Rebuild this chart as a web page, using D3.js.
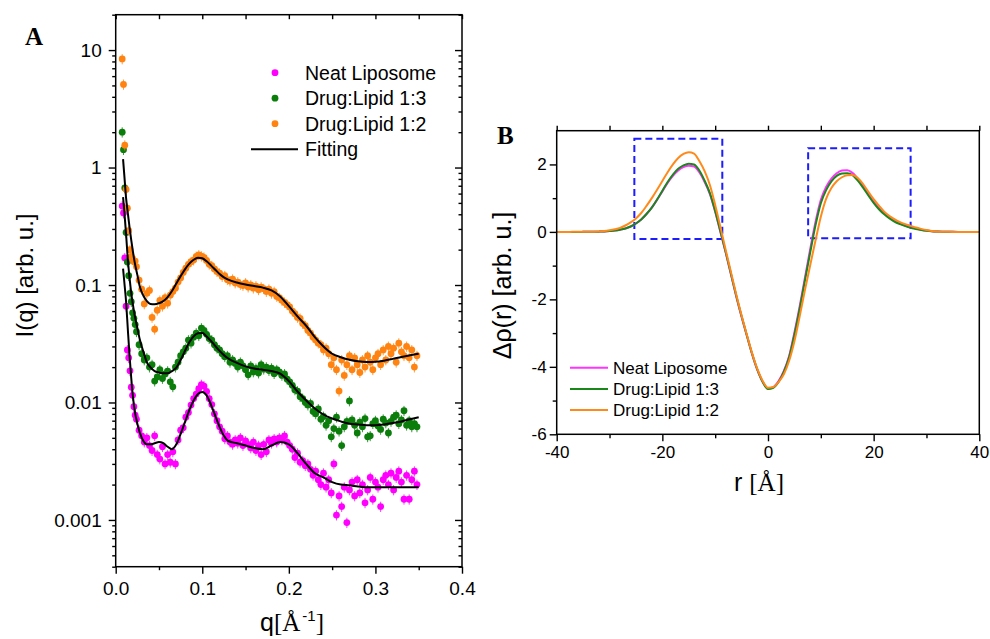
<!DOCTYPE html>
<html>
<head>
<meta charset="utf-8">
<script src="https://cdn.jsdelivr.net/npm/d3@7"></script>
<style>
body { margin: 0; background: #fff; }
svg { display: block; }
</style>
</head>
<body>
<div id="chart-area"></div>
<script>
// ---------- panel A : scattering data ----------
var qData = [
    0.0075, 0.009, 0.0105, 0.012, 0.0135, 0.015, 0.0165, 0.018, 0.0195, 0.021, 0.0225, 0.024,
    0.027, 0.030, 0.033, 0.036, 0.039, 0.042, 0.045, 0.048, 0.051, 0.054, 0.057, 0.060,
    0.063, 0.066, 0.069, 0.072, 0.075, 0.078, 0.081, 0.084, 0.087, 0.090, 0.093, 0.096,
    0.099, 0.102, 0.105, 0.108, 0.111, 0.114, 0.117, 0.120, 0.123, 0.126, 0.129, 0.132,
    0.135, 0.138, 0.141, 0.144, 0.147, 0.150, 0.153, 0.156, 0.159, 0.162, 0.165, 0.168,
    0.171, 0.174, 0.177, 0.180, 0.183, 0.186, 0.189, 0.192, 0.195, 0.198, 0.201, 0.204,
    0.207, 0.210, 0.213, 0.216, 0.219, 0.222, 0.225, 0.228, 0.231, 0.234, 0.237, 0.240,
    0.243, 0.246, 0.249, 0.252, 0.255, 0.258, 0.261, 0.264, 0.267, 0.270, 0.273, 0.276,
    0.279, 0.282, 0.285, 0.288, 0.291, 0.294, 0.297, 0.300, 0.303, 0.306, 0.309, 0.312,
    0.315, 0.318, 0.321, 0.324, 0.327, 0.330, 0.333, 0.336, 0.339, 0.342, 0.345, 0.348
];

var neatI = [
    0.47, 0.41, 0.17, 0.066, 0.028, 0.024, 0.0186, 0.0135, 0.0115, 0.0092, 0.0078, 0.0072,
    0.0058, 0.0052, 0.0046, 0.0050, 0.0043, 0.0039, 0.0052, 0.0036, 0.0033, 0.0042, 0.0030, 0.0036,
    0.0031, 0.0038, 0.0030, 0.0048, 0.0058, 0.0061, 0.0075, 0.0082, 0.0095, 0.0108, 0.0118, 0.0131,
    0.0142, 0.0138, 0.0124, 0.0108, 0.0096, 0.0080, 0.0070, 0.0062, 0.0057, 0.0049, 0.0052, 0.0046,
    0.0044, 0.0048, 0.0045, 0.0050, 0.0043, 0.0047, 0.0044, 0.0041, 0.0046, 0.0039, 0.0043, 0.0036,
    0.0044, 0.0038, 0.0048, 0.0045, 0.0049, 0.0046, 0.0050, 0.0048, 0.0052, 0.0046, 0.0043, 0.0040,
    0.0034, 0.0037, 0.0031, 0.0032, 0.0029, 0.0030, 0.0027, 0.0024, 0.0026, 0.0022, 0.0020, 0.0025,
    0.0019, 0.0022, 0.0017, 0.0030, 0.0011, 0.0016, 0.0013, 0.0019, 0.00095, 0.0018, 0.0021, 0.0016,
    0.0022, 0.0017, 0.0020, 0.0014, 0.0018, 0.0023, 0.0015, 0.0021, 0.0019, 0.0013, 0.0022, 0.0024,
    0.0020, 0.0025, 0.0018, 0.0023, 0.0026, 0.0021, 0.0015, 0.0024, 0.0015, 0.0022, 0.0026, 0.0020
];

var d13I = [
    2.0, 1.42, 0.67, 0.28, 0.157, 0.12, 0.085, 0.072, 0.058, 0.052, 0.046, 0.040,
    0.031, 0.026, 0.023, 0.024, 0.020, 0.021, 0.0152, 0.0165, 0.019, 0.016, 0.0175, 0.0185,
    0.0150, 0.0136, 0.020, 0.022, 0.025, 0.027, 0.029, 0.034, 0.032, 0.036, 0.039, 0.037,
    0.043, 0.041, 0.038, 0.035, 0.034, 0.031, 0.029, 0.028, 0.026, 0.0245, 0.025, 0.022,
    0.023, 0.0215, 0.020, 0.022, 0.0205, 0.019, 0.0172, 0.0205, 0.0182, 0.0195, 0.0178, 0.021,
    0.0192, 0.0200, 0.0187, 0.0196, 0.0176, 0.0190, 0.0182, 0.0170, 0.0175, 0.0158, 0.0150, 0.0140,
    0.0128, 0.0125, 0.0112, 0.0108, 0.0100, 0.0095, 0.0098, 0.0084, 0.0080, 0.0088, 0.0072, 0.0076,
    0.0064, 0.0070, 0.0051, 0.0060, 0.0075, 0.0057, 0.0043, 0.0062, 0.0069, 0.0103, 0.0071, 0.0064,
    0.0055, 0.0068, 0.0062, 0.0073, 0.0051, 0.0052, 0.0066, 0.0070, 0.0063, 0.0059, 0.0072, 0.0067,
    0.0055, 0.0069, 0.0075, 0.0078, 0.0066, 0.0071, 0.0085, 0.0064, 0.0070, 0.0062, 0.0066, 0.0062
];

var d12I = [
    8.4, 5.1, 1.55, 0.65, 0.45, 0.29, 0.20, 0.175, 0.165, 0.158, 0.16, 0.143,
    0.11, 0.092, 0.069, 0.085, 0.09, 0.053, 0.042, 0.061, 0.074, 0.066, 0.078, 0.070,
    0.082, 0.088, 0.094, 0.106, 0.115, 0.128, 0.139, 0.150, 0.158, 0.163, 0.175, 0.180,
    0.176, 0.172, 0.162, 0.150, 0.146, 0.137, 0.130, 0.126, 0.118, 0.120, 0.111, 0.108,
    0.112, 0.104, 0.106, 0.101, 0.099, 0.104, 0.096, 0.100, 0.094, 0.098, 0.091, 0.096,
    0.093, 0.088, 0.092, 0.085, 0.088, 0.080, 0.078, 0.074, 0.071, 0.068, 0.065, 0.060,
    0.057, 0.053, 0.052, 0.047, 0.045, 0.041, 0.039, 0.036, 0.034, 0.032, 0.031, 0.028,
    0.029, 0.026, 0.021, 0.024, 0.019, 0.0125, 0.023, 0.017, 0.021, 0.025, 0.019, 0.024,
    0.021, 0.018, 0.023, 0.020, 0.025, 0.022, 0.019, 0.024, 0.026, 0.021, 0.028, 0.023,
    0.030, 0.026, 0.029, 0.022, 0.032, 0.027, 0.025, 0.030, 0.024, 0.028, 0.020, 0.025
];

// fitted curves
var fitQ = [
    0.0085, 0.010, 0.012, 0.014, 0.016, 0.018, 0.020, 0.022, 0.025, 0.028,
    0.032, 0.036, 0.040, 0.045, 0.050, 0.055, 0.060, 0.065, 0.070, 0.075,
    0.080, 0.085, 0.090, 0.095, 0.100, 0.105, 0.110, 0.115, 0.120, 0.125,
    0.130, 0.140, 0.150, 0.160, 0.170, 0.180, 0.190, 0.200, 0.210, 0.220,
    0.230, 0.240, 0.250, 0.260, 0.270, 0.280, 0.290, 0.300, 0.310, 0.320,
    0.330, 0.340, 0.350
];
var fitNeat = [
    0.138, 0.105, 0.072, 0.042, 0.025, 0.016, 0.011, 0.0085, 0.0066, 0.0055,
    0.0047, 0.0044, 0.0044, 0.0045, 0.0046, 0.0045, 0.0042, 0.0040, 0.0044, 0.0054,
    0.0068, 0.0086, 0.0104, 0.0118, 0.0123, 0.0115, 0.0096, 0.0077, 0.0062, 0.0052,
    0.0047, 0.0045, 0.0043, 0.0041, 0.0040, 0.0043, 0.0046, 0.0044, 0.0037, 0.0030,
    0.0025, 0.0023, 0.0021, 0.0020, 0.00197, 0.00193, 0.0019, 0.0019, 0.0019, 0.0019,
    0.0019, 0.0019, 0.0019
];
var fitD13 = [
    0.56, 0.42, 0.27, 0.165, 0.115, 0.085, 0.067, 0.055, 0.043, 0.034,
    0.027, 0.022, 0.020, 0.0185, 0.018, 0.0177, 0.0177, 0.0185, 0.0198, 0.023,
    0.0275, 0.0325, 0.0365, 0.0388, 0.039, 0.0365, 0.0335, 0.0303, 0.0275, 0.0253,
    0.0237, 0.0217, 0.0203, 0.0195, 0.019, 0.0185, 0.0176, 0.0152, 0.0124, 0.0104,
    0.0089, 0.0079, 0.0073, 0.0069, 0.0066, 0.0065, 0.0064, 0.0064, 0.0065, 0.0067,
    0.0069, 0.0072, 0.0075
];
var fitD12 = [
    1.18, 0.85, 0.55, 0.41, 0.31, 0.24, 0.19, 0.155, 0.122, 0.096,
    0.081, 0.073, 0.069, 0.0685, 0.070, 0.073, 0.079, 0.089, 0.103, 0.119,
    0.136, 0.152, 0.164, 0.171, 0.169, 0.159, 0.147, 0.135, 0.124, 0.116,
    0.111, 0.105, 0.101, 0.098, 0.095, 0.090, 0.080, 0.066, 0.054, 0.045,
    0.036, 0.030, 0.026, 0.0243, 0.0231, 0.0224, 0.0221, 0.0222, 0.0227, 0.0235,
    0.0244, 0.0252, 0.026
];

// ---------- panel B : electron density profiles ----------
var rGrid = [
    -40, -39, -38, -37, -36, -35, -34, -33, -32, -31,
    -30, -29, -28, -27, -26, -25, -24, -23, -22, -21,
    -20, -19, -18, -17, -16, -15, -14, -13, -12, -11,
    -10, -9, -8, -7, -6, -5, -4, -3, -2, -1,
    0, 1, 2, 3, 4, 5, 6, 7, 8, 9,
    10, 11, 12, 13, 14, 15, 16, 17, 18, 19,
    20, 21, 22, 23, 24, 25, 26, 27, 28, 29,
    30, 31, 32, 33, 34, 35, 36, 37, 38, 39,
    40
];
var rhoNeat = [
    0, 0, 0, 0, 0, 0.001, 0.002, 0.004, 0.008, 0.014,
    0.025, 0.04, 0.065, 0.10, 0.16, 0.25, 0.37, 0.53, 0.72, 0.95,
    1.2, 1.45, 1.66, 1.82, 1.92, 1.96, 1.94, 1.77, 1.48, 1.12,
    0.6, -0.01, -0.62, -1.27, -1.92, -2.52, -3.08, -3.63, -4.1, -4.45,
    -4.64, -4.6, -4.42, -4.12, -3.68, -2.98, -2.2, -1.35, -0.5, 0.3,
    0.95, 1.33, 1.58, 1.74, 1.82, 1.83, 1.75, 1.57, 1.36, 1.12,
    0.9, 0.71, 0.55, 0.43, 0.33, 0.25, 0.19, 0.14, 0.1, 0.065,
    0.04, 0.022, 0.011, 0.005, 0.002, 0.001, 0, 0, 0, 0,
    0
];
var rhoD13 = [
    0, 0, 0, 0, 0, 0.001, 0.002, 0.004, 0.008, 0.014,
    0.025, 0.04, 0.065, 0.10, 0.16, 0.25, 0.37, 0.53, 0.72, 0.96,
    1.22, 1.48, 1.70, 1.87, 1.97, 2.02, 2.0, 1.82, 1.52, 1.15,
    0.62, 0.01, -0.6, -1.25, -1.9, -2.5, -3.07, -3.62, -4.09, -4.45,
    -4.66, -4.62, -4.45, -4.15, -3.72, -3.05, -2.28, -1.43, -0.6, 0.2,
    0.85, 1.24, 1.5, 1.66, 1.73, 1.74, 1.68, 1.52, 1.31, 1.08,
    0.86, 0.67, 0.52, 0.4, 0.3, 0.23, 0.17, 0.12, 0.085, 0.055,
    0.033, 0.018, 0.009, 0.004, 0.002, 0.001, 0, 0, 0, 0,
    0
];
var rhoD12 = [
    0, 0, 0, 0.001, 0.001, 0.002, 0.004, 0.008, 0.015, 0.026,
    0.048, 0.078, 0.12, 0.19, 0.28, 0.40, 0.56, 0.77, 1.0, 1.25,
    1.51, 1.77, 2.0, 2.19, 2.31, 2.36, 2.32, 2.10, 1.80, 1.39,
    0.80, 0.14, -0.54, -1.2, -1.86, -2.48, -3.05, -3.6, -4.07, -4.42,
    -4.62, -4.6, -4.45, -4.22, -3.82, -3.24, -2.5, -1.72, -0.98, -0.25,
    0.45, 0.98, 1.3, 1.5, 1.62, 1.68, 1.69, 1.6, 1.42, 1.19,
    0.97, 0.78, 0.6, 0.47, 0.37, 0.29, 0.23, 0.18, 0.13, 0.09,
    0.055, 0.03, 0.015, 0.007, 0.003, 0, 0, 0, 0, 0,
    0
];

var seriesNames = ["Neat Liposome", "Drug:Lipid 1:3", "Drug:Lipid 1:2"];
var dotColors = ["#ff00ff", "#0b7d0b", "#ff8311"];
var lineColors = ["#ff33ff", "#1a871a", "#ff8a1c"];

var logTicks = [0.001, 0.01, 0.1, 1, 10];
var logTickLabels = ["0.001", "0.01", "0.1", "1", "10"];
var qTicks = [0, 0.1, 0.2, 0.3, 0.4];
var qMinor = [0.05, 0.15, 0.25, 0.35];
var rTicks = [-40, -20, 0, 20, 40];
var rMinor = [-30, -10, 10, 30];
var rhoTicks = [-6, -4, -2, 0, 2];
var rhoMinor = [-5, -3, -1, 1];
// dashed boxes in data units: [r0, r1, top, bottom]
var boxes = [[-25.3, -8.65, 2.76, -0.21], [7.6, 27.0, 2.48, -0.19]];

var relErr = 0.1;   // drawn error bar half-height, relative

var sans = "'Liberation Sans', Arial, sans-serif";
var serif = "'Liberation Serif', 'Times New Roman', serif";

var svg = d3.select("#chart-area").append("svg")
    .attr("width", 990)
    .attr("height", 639)
    .style("font-family", sans);

function styleAxis(g, fs) {
    g.attr("font-family", null).attr("font-size", null);
    g.select(".domain").remove();
    g.selectAll(".tick line").attr("stroke", "#000").attr("stroke-width", 1.4);
    g.selectAll(".tick text")
        .style("font-size", fs + "px")
        .style("font-family", sans)
        .attr("fill", "#000");
}

// ================= PANEL A =================
var xA = d3.scaleLinear().domain([0, 0.4]).range([115.7, 462]);
var yA = d3.scaleLog().domain([4e-4, 20]).range([566.7, 14.7]);
var logMinor = yA.ticks().filter((v) => Math.abs(Math.log10(v) - Math.round(Math.log10(v))) > 1e-6);

var gA = svg.append("g");

// error bars + dots
var setsA = [neatI, d13I, d12I];
setsA.forEach((vals, s) => {
    var pts = qData.map((q, i) => ({ q: q, v: vals[i] }));
    var g = gA.append("g");
    g.selectAll("line").data(pts).enter().append("line")
        .attr("x1", (d) => xA(d.q))
        .attr("x2", (d) => xA(d.q))
        .attr("y1", (d) => yA(d.v * (1 - relErr)))
        .attr("y2", (d) => yA(d.v * (1 + relErr)))
        .attr("stroke", dotColors[s])
        .attr("stroke-width", 0.8);
    g.selectAll("circle").data(pts).enter().append("circle")
        .attr("cx", (d) => xA(d.q))
        .attr("cy", (d) => yA(d.v))
        .attr("r", 3.4)
        .attr("fill", dotColors[s]);
});

// fit lines
var fitLine = d3.line()
    .x((d) => xA(d[0]))
    .y((d) => yA(d[1]))
    .curve(d3.curveMonotoneX);
[fitNeat, fitD13, fitD12].forEach((vals) => {
    gA.append("path")
        .datum(fitQ.map((q, i) => [q, vals[i]]))
        .attr("d", fitLine)
        .attr("fill", "none")
        .attr("stroke", "#000")
        .attr("stroke-width", 2);
});

// axes A
var axB = gA.append("g").attr("transform", "translate(0,566.7)")
    .call(d3.axisBottom(xA).tickValues(qTicks).tickFormat(d3.format(".1f")).tickSize(7).tickPadding(8));
styleAxis(axB, 19);
var axBm = gA.append("g").attr("transform", "translate(0,566.7)")
    .call(d3.axisBottom(xA).tickValues(qMinor).tickFormat("").tickSize(3.5));
styleAxis(axBm, 19);
var axT = gA.append("g").attr("transform", "translate(0,14.7)")
    .call(d3.axisTop(xA).tickValues(qTicks.concat(qMinor)).tickFormat("").tickSize(-4.5));
styleAxis(axT, 19);

var axL = gA.append("g").attr("transform", "translate(115.7,0)")
    .call(d3.axisLeft(yA).tickValues(logTicks).tickFormat((d, i) => logTickLabels[i]).tickSize(7).tickPadding(7));
styleAxis(axL, 19);
var axLm = gA.append("g").attr("transform", "translate(115.7,0)")
    .call(d3.axisLeft(yA).tickValues(logMinor).tickFormat("").tickSize(3.5));
styleAxis(axLm, 19);
var axR = gA.append("g").attr("transform", "translate(462,0)")
    .call(d3.axisRight(yA).tickValues(logTicks).tickFormat("").tickSize(-7));
styleAxis(axR, 19);
var axRm = gA.append("g").attr("transform", "translate(462,0)")
    .call(d3.axisRight(yA).tickValues(logMinor).tickFormat("").tickSize(-3.5));
styleAxis(axRm, 19);

gA.append("rect")
    .attr("x", 115.7).attr("y", 14.7)
    .attr("width", 462 - 115.7).attr("height", 566.7 - 14.7)
    .attr("fill", "none").attr("stroke", "#000").attr("stroke-width", 1.5);

// titles A
gA.append("text")
    .attr("transform", "translate(33,275.5) rotate(-90)")
    .attr("text-anchor", "middle")
    .style("font-size", "24px")
    .text("I(q) [arb. u.]");

var xtA = gA.append("text")
    .attr("x", 292).attr("y", 631)
    .attr("text-anchor", "middle")
    .style("font-size", "25px");
xtA.append("tspan").text("q");
xtA.append("tspan").style("font-family", serif).text("[Å");
xtA.append("tspan").style("font-size", "15px").attr("dy", -10).attr("dx", 2).text("-1");
xtA.append("tspan").style("font-family", serif).attr("dy", 10).text("]");

gA.append("text")
    .attr("x", 25).attr("y", 45)
    .style("font-family", serif)
    .style("font-weight", "bold")
    .style("font-size", "25px")
    .text("A");

// legend A
var legA = gA.append("g");
seriesNames.forEach((name, i) => {
    var y = 72.7 + i * 25.5;
    legA.append("circle").attr("cx", 275).attr("cy", y).attr("r", 3.4).attr("fill", dotColors[i]);
    legA.append("text").attr("x", 305).attr("y", y).attr("dy", "0.36em")
        .style("font-size", "19.5px").text(name);
});
legA.append("line")
    .attr("x1", 251).attr("x2", 298)
    .attr("y1", 72.7 + 3 * 25.5).attr("y2", 72.7 + 3 * 25.5)
    .attr("stroke", "#000").attr("stroke-width", 2);
legA.append("text").attr("x", 305).attr("y", 72.7 + 3 * 25.5).attr("dy", "0.36em")
    .style("font-size", "19.5px").text("Fitting");

// ================= PANEL B =================
var xB = d3.scaleLinear().domain([-40, 40]).range([556.7, 979.3]);
var yB = d3.scaleLinear().domain([-6, 3]).range([434.3, 130.7]);
var gB = svg.append("g");

// dashed boxes
gB.selectAll(".box").data(boxes).enter().append("rect")
    .attr("class", "box")
    .attr("x", (d) => xB(d[0]))
    .attr("y", (d) => yB(d[2]))
    .attr("width", (d) => xB(d[1]) - xB(d[0]))
    .attr("height", (d) => yB(d[3]) - yB(d[2]))
    .attr("fill", "none")
    .attr("stroke", "#1c1cff")
    .attr("stroke-width", 2)
    .attr("stroke-dasharray", "7,4");

var rhoLine = d3.line()
    .x((d) => xB(d[0]))
    .y((d) => yB(d[1]))
    .curve(d3.curveMonotoneX);
[rhoNeat, rhoD13, rhoD12].forEach((vals, s) => {
    gB.append("path")
        .datum(rGrid.map((r, i) => [r, vals[i]]))
        .attr("d", rhoLine)
        .attr("fill", "none")
        .attr("stroke", lineColors[s])
        .attr("stroke-width", 2);
});

var bB = gB.append("g").attr("transform", "translate(0,434.3)")
    .call(d3.axisBottom(xB).tickValues(rTicks).tickFormat((d) => String(d)).tickSize(7).tickPadding(5));
styleAxis(bB, 17);
var bBm = gB.append("g").attr("transform", "translate(0,434.3)")
    .call(d3.axisBottom(xB).tickValues(rMinor).tickFormat("").tickSize(4));
styleAxis(bBm, 17);
var tB = gB.append("g").attr("transform", "translate(0,130.7)")
    .call(d3.axisTop(xB).tickValues(rTicks.concat(rMinor)).tickFormat("").tickSize(5));
styleAxis(tB, 17);
var lB = gB.append("g").attr("transform", "translate(556.7,0)")
    .call(d3.axisLeft(yB).tickValues(rhoTicks).tickFormat((d) => String(d)).tickSize(7).tickPadding(3));
styleAxis(lB, 17);
var lBm = gB.append("g").attr("transform", "translate(556.7,0)")
    .call(d3.axisLeft(yB).tickValues(rhoMinor).tickFormat("").tickSize(4));
styleAxis(lBm, 17);

gB.append("rect")
    .attr("x", 556.7).attr("y", 130.7)
    .attr("width", 979.3 - 556.7).attr("height", 434.3 - 130.7)
    .attr("fill", "none").attr("stroke", "#000").attr("stroke-width", 1.5);

gB.append("text")
    .attr("transform", "translate(511,285.5) rotate(-90)")
    .attr("text-anchor", "middle")
    .style("font-size", "25px")
    .text("Δρ(r) [arb. u.]");

var xtB = gB.append("text")
    .attr("x", 759).attr("y", 491)
    .attr("text-anchor", "middle")
    .style("font-size", "25px");
xtB.append("tspan").text("r ");
xtB.append("tspan").style("font-family", serif).text("[Å]");

gB.append("text")
    .attr("x", 497).attr("y", 144)
    .style("font-family", serif)
    .style("font-weight", "bold")
    .style("font-size", "25px")
    .text("B");

var legB = gB.append("g");
seriesNames.forEach((name, i) => {
    var y = 367.7 + i * 21.2;
    legB.append("line").attr("x1", 570).attr("x2", 608).attr("y1", y).attr("y2", y)
        .attr("stroke", lineColors[i]).attr("stroke-width", 2);
    legB.append("text").attr("x", 613).attr("y", y).attr("dy", "0.36em")
        .style("font-size", "17px").text(name);
});
</script>
</body>
</html>
